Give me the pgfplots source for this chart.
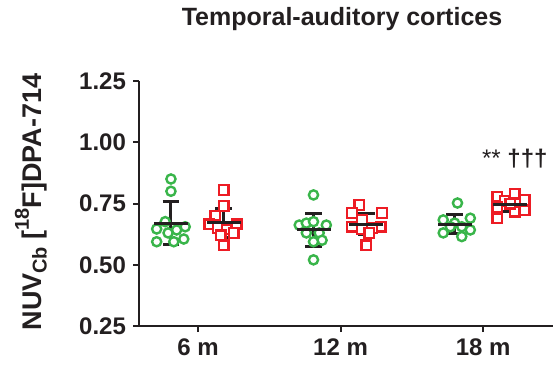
\documentclass[border=0pt]{standalone}
\usepackage{fontspec}
\setmainfont{Liberation Sans}
\usepackage{pgfplots}
\pgfplotsset{compat=1.18}
\definecolor{grpA}{RGB}{57,181,74}
\definecolor{grpB}{RGB}{237,28,36}
\definecolor{ink}{RGB}{35,31,32}

\begin{document}
\begin{tikzpicture}
\useasboundingbox (-69.5pt,-19.5pt) rectangle (208pt,163pt);
\begin{axis}[
  at={(0,0)}, anchor=south west, scale only axis,
  width=207pt, height=122.5pt,
  xmin=0.586, xmax=3.49, ymin=0.25, ymax=1.25,
  axis x line*=bottom, axis y line*=left,
  axis line style={line width=1pt, draw=ink, -},
  every outer x axis line/.append style={-},
  every outer y axis line/.append style={-},
  major tick style={line width=1pt, draw=ink},
  tick align=outside, major tick length=3pt,
  xtick={1,2,3}, xticklabels={6 m,12 m,18 m},
  ytick={0.25,0.5,0.75,1,1.25},
  yticklabel style={/pgf/number format/.cd, fixed, fixed zerofill, precision=2},
  /pgf/number format/assume math mode=true,
  tick label style={font=\fontsize{12}{14}\selectfont\bfseries, text=ink},
  clip=false,
]
% individual animals, group A (circles)
\addplot[only marks, mark=*, mark size=2.3pt,
  mark options={line width=1.2pt, draw=grpA, fill=white}] coordinates {
  (0.81,0.850) (0.81,0.800) (0.77,0.676) (0.71,0.646) (0.79,0.630)
  (0.85,0.642) (0.91,0.655) (0.71,0.594) (0.83,0.594) (0.90,0.605)
  (1.81,0.785) (1.71,0.662) (1.76,0.670) (1.81,0.676) (1.90,0.662)
  (1.76,0.630) (1.85,0.630) (1.87,0.600) (1.81,0.594) (1.81,0.520)
  (2.82,0.752) (2.72,0.683) (2.91,0.690) (2.80,0.670) (2.77,0.655)
  (2.85,0.655) (2.91,0.642) (2.72,0.630) (2.85,0.615)
};
% individual animals, group B (squares)
\addplot[only marks, mark=square*, mark size=2.4pt,
  mark options={line width=1.2pt, draw=grpB, fill=white}] coordinates {
  (1.18,0.805) (1.18,0.740) (1.12,0.700) (1.08,0.665) (1.14,0.650)
  (1.20,0.645) (1.27,0.665) (1.25,0.630) (1.16,0.620) (1.18,0.580)
  (2.13,0.744) (2.08,0.711) (2.29,0.711) (2.15,0.683) (2.08,0.655)
  (2.28,0.655) (2.22,0.650) (2.15,0.645) (2.20,0.630) (2.18,0.580)
  (3.10,0.778) (3.22,0.790) (3.29,0.764) (3.10,0.690) (3.22,0.717)
  (3.29,0.723) (3.15,0.760) (3.19,0.750) (3.10,0.735)
};
% mean +- SD
\addplot[only marks, mark=-, mark size=8.5pt,
  mark options={line width=1.5pt, draw=ink},
  error bars/.cd, y dir=both, y explicit,
  error bar style={line width=1.5pt, draw=ink},
  error mark options={rotate=90, mark size=4.2pt, line width=1.5pt, draw=ink}]
  coordinates {
  (0.81,0.669) +- (0,0.088)
  (1.18,0.671) +- (0,0.060)
  (1.81,0.643) +- (0,0.068)
  (2.18,0.666) +- (0,0.042)
  (2.80,0.666) +- (0,0.040)
  (3.19,0.745) +- (0,0.029)
};
\node[anchor=base west, font=\fontsize{12}{14}\selectfont, text=ink,
  inner sep=0pt] at (axis cs:2.99,0.903) {** \textbf{†††}};
\end{axis}
\node[anchor=base, font=\fontsize{12.5}{15}\selectfont\bfseries, text=ink]
  at (101.5pt,150pt) {Temporal-auditory cortices};
\node[rotate=90, font=\fontsize{13.5}{16}\selectfont\bfseries, text=ink]
  at (-54pt,62pt)
  {NUV\raisebox{-0.35ex}{\fontsize{10}{11}\selectfont Cb} [\raisebox{0.9ex}{\fontsize{10}{11}\selectfont 18}F]DPA-714};
\end{tikzpicture}
\end{document}
